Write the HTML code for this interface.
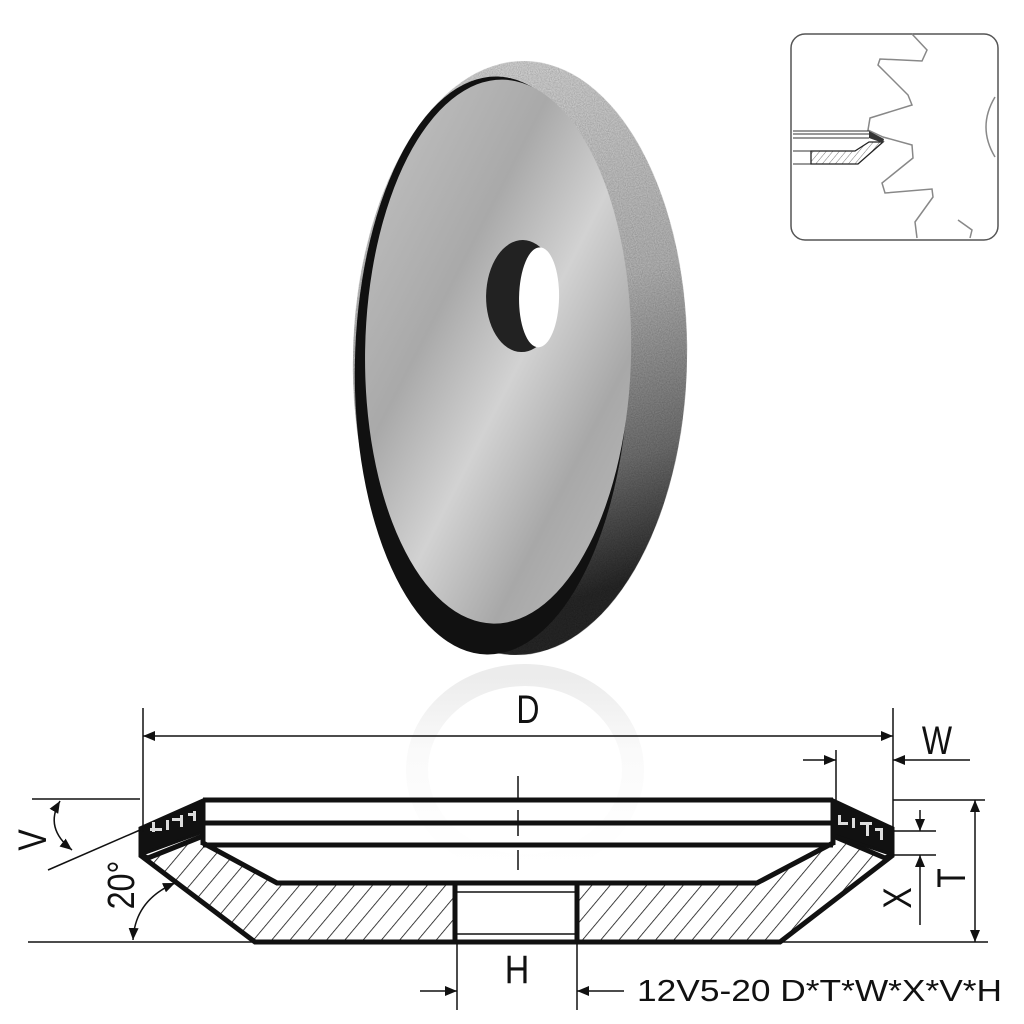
<!DOCTYPE html>
<html><head><meta charset="utf-8"><style>
html,body{margin:0;padding:0;background:#fff;}
svg{display:block;}
text{font-family:"Liberation Sans",sans-serif;fill:#111;}
</style></head><body>
<svg width="1024" height="1024" viewBox="0 0 1024 1024" xmlns="http://www.w3.org/2000/svg">
<defs>
<pattern id="hatch" width="14" height="14" patternUnits="userSpaceOnUse" patternTransform="rotate(40)">
<line x1="0" y1="0" x2="0" y2="14" stroke="#111" stroke-width="1.6"/>
</pattern>
<pattern id="hatch2" width="5" height="5" patternUnits="userSpaceOnUse" patternTransform="rotate(40)">
<line x1="0" y1="0" x2="0" y2="5" stroke="#555" stroke-width="0.8"/>
</pattern>
<filter id="noise" x="0" y="0" width="100%" height="100%">
<feTurbulence type="fractalNoise" baseFrequency="0.9" numOctaves="2" seed="3"/>
<feColorMatrix type="matrix" values="0 0 0 0 0  0 0 0 0 0  0 0 0 0 0  0 0 0 0.6 0"/>
<feComposite in2="SourceGraphic" operator="in"/>
<feBlend in="SourceGraphic" mode="multiply"/>
</filter>
<linearGradient id="rim" x1="0" y1="0" x2="0.2" y2="1">
<stop offset="0" stop-color="#e8e8e8"/>
<stop offset="0.5" stop-color="#c0c0c0"/>
<stop offset="0.8" stop-color="#777"/>
<stop offset="1" stop-color="#2a2a2a"/>
</linearGradient>
<linearGradient id="face" x1="0" y1="0" x2="1" y2="1">
<stop offset="0" stop-color="#c4c4c4"/>
<stop offset="0.35" stop-color="#a9a9a9"/>
<stop offset="0.55" stop-color="#d2d2d2"/>
<stop offset="0.75" stop-color="#a8a8a8"/>
<stop offset="1" stop-color="#bdbdbd"/>
</linearGradient>
<linearGradient id="refl" x1="0" y1="0" x2="0" y2="1">
<stop offset="0" stop-color="#dcdcdc"/>
<stop offset="0.4" stop-color="#f6f6f6"/>
<stop offset="1" stop-color="#fff"/>
</linearGradient>
<marker id="ar" viewBox="0 0 12 10" refX="12" refY="5" markerWidth="12" markerHeight="10" markerUnits="userSpaceOnUse" orient="auto-start-reverse">
<path d="M0,0 L12,5 L0,10 Z" fill="#111"/>
</marker>
</defs>

<!-- reflection -->
<ellipse cx="525" cy="770" rx="108" ry="95" fill="none" stroke="url(#refl)" stroke-width="22" opacity="0.55"/>

<!-- wheel photo -->
<g transform="rotate(1 520 358)">
<ellipse cx="520" cy="358" rx="167" ry="297" fill="url(#rim)" filter="url(#noise)"/>
<ellipse cx="492" cy="366" rx="137" ry="289" fill="#111"/>
<ellipse cx="498" cy="352" rx="133" ry="272" fill="url(#face)"/>
<ellipse cx="521" cy="296" rx="36" ry="56" fill="#222"/>
<ellipse cx="538" cy="297" rx="20" ry="50" fill="#fff"/>
</g>

<!-- inset -->
<rect x="791" y="34" width="207" height="206" rx="14" fill="#fff" stroke="#555" stroke-width="1.5"/>
<polyline points="912,34 927,50 922,61 880,59 878,65 908,95 912,105 870,118 868,130 883,137 912,145 913,158 882,183 885,193 932,189 933,197 915,222 917,238" fill="none" stroke="#888" stroke-width="1.5"/>
<polyline points="958,220 972,230 970,238" fill="none" stroke="#888" stroke-width="1.5"/>
<path d="M995,97 Q977,127 995,157" fill="none" stroke="#888" stroke-width="1.5"/>
<g stroke="#333" stroke-width="1">
<line x1="793" y1="131" x2="869" y2="131"/>
<line x1="793" y1="134" x2="869" y2="134"/>
<line x1="793" y1="138" x2="869" y2="138"/>
<line x1="793" y1="151" x2="811" y2="151"/>
<line x1="793" y1="164" x2="811" y2="164"/>
</g>
<polygon points="811,151 855,151 869,142 883,142 858,164 811,164" fill="url(#hatch2)" stroke="#222" stroke-width="1.3"/>
<polygon points="869,131 884,139 883,143 869,138" fill="#333"/>

<!-- cross section -->
<g stroke="#111" stroke-linejoin="miter">
<polygon points="148,858 203,836 203,843 277,883 455,883 455,942 255,942 140,855" fill="url(#hatch)" stroke-width="5"/>
<polygon points="885,858 833,836 833,843 757,883 577,883 577,942 780,942 893,855" fill="url(#hatch)" stroke-width="5"/>
<polygon points="203,800 140,828 140,855 203,832" fill="#111" stroke-width="3"/>
<polygon points="833,800 893,828 893,855 833,835" fill="#111" stroke-width="3"/>
<line x1="203" y1="800" x2="833" y2="800" stroke-width="5"/>
<line x1="203" y1="823" x2="833" y2="823" stroke-width="5"/>
<line x1="203" y1="845" x2="833" y2="845" stroke-width="5"/>
<line x1="203" y1="800" x2="203" y2="845" stroke-width="5"/>
<line x1="833" y1="800" x2="833" y2="845" stroke-width="5"/>
<line x1="277" y1="883" x2="757" y2="883" stroke-width="5"/>
<line x1="255" y1="942" x2="780" y2="942" stroke-width="5"/>
<line x1="455" y1="892" x2="577" y2="892" stroke-width="1.5"/>
<line x1="455" y1="934" x2="577" y2="934" stroke-width="1.5"/>
</g>
<!-- diamond speckle -->
<g fill="#ddd">
<rect x="150" y="828" width="12" height="3"/><rect x="152" y="822" width="3" height="10"/>
<rect x="166" y="820" width="3" height="10"/><rect x="172" y="818" width="10" height="3"/>
<rect x="180" y="815" width="3" height="12"/><rect x="188" y="813" width="6" height="3"/><rect x="193" y="811" width="3" height="10"/>
<rect x="838" y="815" width="3" height="10"/><rect x="838" y="822" width="10" height="3"/>
<rect x="852" y="818" width="3" height="10"/><rect x="860" y="822" width="12" height="3"/>
<rect x="866" y="824" width="3" height="12"/><rect x="875" y="828" width="8" height="3"/><rect x="880" y="830" width="3" height="10"/>
</g>

<!-- center line -->
<g stroke="#111" stroke-width="1.5">
<line x1="518" y1="776" x2="518" y2="800"/>
<line x1="518" y1="810" x2="518" y2="836"/>
<line x1="518" y1="850" x2="518" y2="870"/>
</g>

<!-- dimension lines -->
<g stroke="#111" stroke-width="1.5" fill="none">
<line x1="143" y1="708" x2="143" y2="832"/>
<line x1="893" y1="708" x2="893" y2="830"/>
<line x1="143" y1="736" x2="893" y2="736" marker-start="url(#ar)" marker-end="url(#ar)"/>
<line x1="836" y1="750" x2="836" y2="800"/>
<line x1="803" y1="760" x2="836" y2="760" marker-end="url(#ar)"/>
<line x1="970" y1="760" x2="893" y2="760" marker-end="url(#ar)"/>
<line x1="893" y1="800" x2="985" y2="800"/>
<line x1="780" y1="942" x2="988" y2="942"/>
<line x1="975" y1="800" x2="975" y2="942" marker-start="url(#ar)" marker-end="url(#ar)"/>
<line x1="893" y1="831" x2="936" y2="831"/>
<line x1="893" y1="855" x2="936" y2="855"/>
<line x1="920" y1="810" x2="920" y2="831" marker-end="url(#ar)"/>
<line x1="920" y1="925" x2="920" y2="855" marker-end="url(#ar)"/>
<line x1="32" y1="799" x2="140" y2="799"/>
<line x1="48" y1="870" x2="140" y2="830"/>
<path d="M60,801 Q44,828 72,850" marker-start="url(#ar)" marker-end="url(#ar)"/>
<line x1="28" y1="942" x2="255" y2="942"/>
<path d="M175,883 Q135,900 133,940" marker-start="url(#ar)" marker-end="url(#ar)"/>
<line x1="457" y1="942" x2="457" y2="1010"/>
<line x1="577" y1="942" x2="577" y2="1010"/>
<line x1="420" y1="991" x2="457" y2="991" marker-end="url(#ar)"/>
<line x1="624" y1="991" x2="577" y2="991" marker-end="url(#ar)"/>
</g>

<!-- labels -->
<text x="528" y="723" font-size="40" text-anchor="middle" transform="translate(528 0) scale(0.8 1) translate(-528 0)">D</text>
<text x="937" y="754" font-size="40" text-anchor="middle" transform="translate(937 0) scale(0.8 1) translate(-937 0)">W</text>
<text font-size="40" text-anchor="middle" transform="translate(965 878) rotate(-90) scale(0.8 1)">T</text>
<text font-size="40" text-anchor="middle" transform="translate(911 898) rotate(-90) scale(0.8 1)">X</text>
<text font-size="40" text-anchor="middle" transform="translate(46 840) rotate(-90) scale(0.8 1)">V</text>
<text font-size="38" text-anchor="middle" transform="translate(134 885) rotate(-90) scale(0.85 1)">20°</text>
<text x="517" y="983" font-size="40" text-anchor="middle" transform="translate(517 0) scale(0.85 1) translate(-517 0)">H</text>
<text x="637" y="1001" font-size="31" textLength="365" lengthAdjust="spacingAndGlyphs">12V5-20 D*T*W*X*V*H</text>
</svg>
</body></html>
